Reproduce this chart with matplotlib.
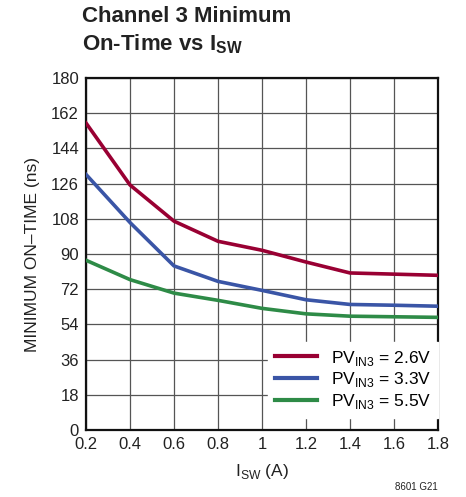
import matplotlib
matplotlib.use("Agg")
from matplotlib import pyplot as plt

# data
isw = [0.2, 0.4, 0.6, 0.8, 1.0, 1.2, 1.4, 1.6, 1.8]
ton_26 = [157, 125.3, 106.8, 96.5, 91.9, 85.9, 80.3, 79.7, 79.1]
ton_33 = [130.7, 106.1, 83.9, 76.0, 71.4, 66.6, 64.2, 63.8, 63.3]
ton_55 = [86.8, 76.9, 70.0, 66.3, 62.2, 59.4, 58.2, 57.9, 57.6]
labels = ["PV$_{\\mathregular{IN3}}$ = 2.6V", "PV$_{\\mathregular{IN3}}$ = 3.3V",
          "PV$_{\\mathregular{IN3}}$ = 5.5V"]
colors = ["#990033", "#3a55a6", "#2e8b47"]
xticks = [0.2, 0.4, 0.6, 0.8, 1.0, 1.2, 1.4, 1.6, 1.8]
xticklabels = ["0.2", "0.4", "0.6", "0.8", "1", "1.2", "1.4", "1.6", "1.8"]
yticks = list(range(0, 181, 18))

fam = "Liberation Sans"
plt.rcParams['font.family'] = [fam, 'DejaVu Sans']
plt.rcParams['mathtext.fontset'] = 'custom'
plt.rcParams['mathtext.rm'] = fam
plt.rcParams['mathtext.bf'] = fam + ":bold"

fig = plt.figure(figsize=(4.66, 4.97), dpi=100)
ax = fig.add_axes([86 / 466, 67 / 497, 352 / 466, 352 / 497])

for y, lab, c in zip([ton_26, ton_33, ton_55], labels, colors):
    ax.plot(isw, y, color=c, lw=2.6, label=lab, zorder=3)

ax.set_xlim(0.2, 1.8)
ax.set_ylim(0, 180)
ax.set_xticks(xticks)
ax.set_xticklabels(xticklabels)
ax.set_yticks(yticks)
ax.grid(True, color="#555555", lw=0.9)
ax.tick_params(length=0, labelsize=12, colors="#222222", pad=5)
for s in ax.spines.values():
    s.set_linewidth(1.6)
    s.set_color("#111111")

ax.set_xlabel("I$_{\\mathregular{SW}}$ (A)", fontsize=12.5, color="#222222", labelpad=7)
ax.set_ylabel("MINIMUM ON\u2013TIME (ns)", fontsize=12.5, color="#222222", labelpad=8)

leg = ax.legend(loc="lower right", bbox_to_anchor=(1.0, 0.035), frameon=True, fontsize=12.5,
                handlelength=2.4, handletextpad=0.8, labelspacing=0.15, borderpad=0.4,
                fancybox=False, borderaxespad=0)
leg.get_frame().set_facecolor("white")
leg.get_frame().set_edgecolor("white")
leg.get_frame().set_alpha(1)
leg.set_zorder(5)
for l in leg.get_lines():
    l.set_linewidth(3)

fig.text(82 / 466, 1 - 6 / 497, "Channel 3 Minimum\nOn-Time vs I$_{\\mathbf{SW}}$",
         fontsize=16, fontweight="bold", va="top", ha="left", linespacing=1.3,
         color="#222222")
fig.text(438 / 466, 1 - 492 / 497, "8601 G21", fontsize=7, ha="right", va="bottom",
         color="#222222")

fig.savefig("out.png", dpi=100)
